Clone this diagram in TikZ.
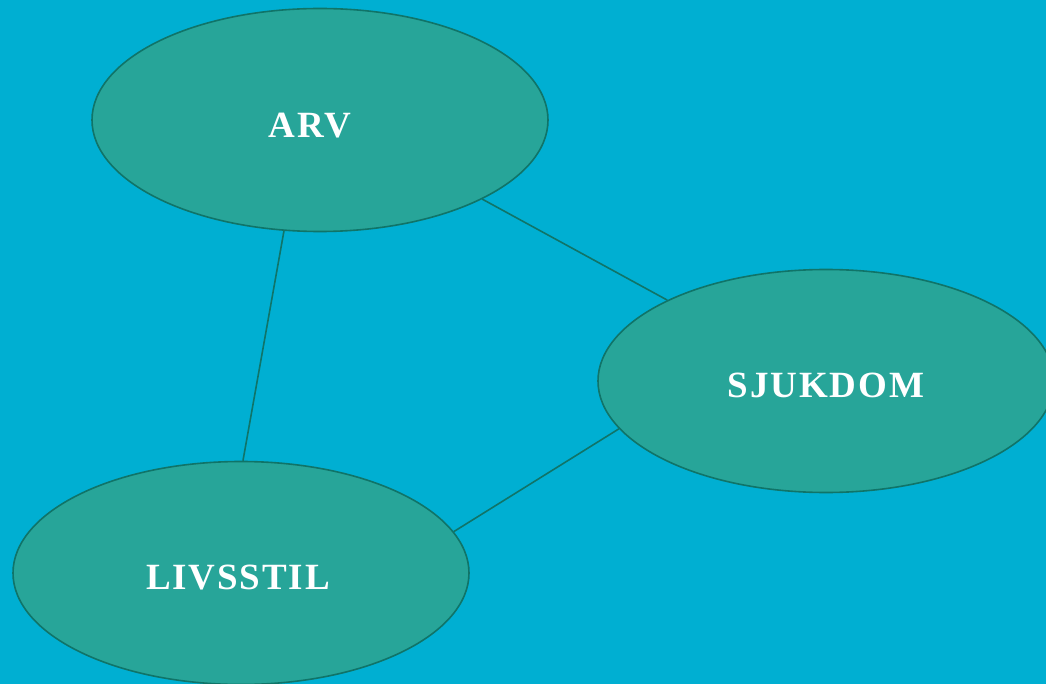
\documentclass[tikz,border=0pt]{standalone}
\usepackage{fontspec}
\newfontfamily\labelfont[LetterSpace=5]{Liberation Serif}
\usetikzlibrary{shapes.geometric}
\definecolor{bgblue}{RGB}{0,175,210}
\definecolor{bubblefill}{RGB}{39,165,153}
\definecolor{bubbleedge}{RGB}{16,116,104}
\tikzset{
  bubble/.style={ellipse, draw=bubbleedge, fill=bubblefill, line width=1.6pt,
    minimum width=456pt, minimum height=223pt, inner sep=0pt},
  txt/.style={text=white, font=\labelfont\bfseries\fontsize{37}{42}\selectfont, inner sep=0pt},
  link/.style={draw=bubbleedge, line width=1.6pt}
}
\begin{document}
\begin{tikzpicture}[x=1pt,y=-1pt]
\useasboundingbox (0,0) rectangle (1046,684);
\clip (0,0) rectangle (1046,684);
\fill[bgblue] (0,0) rectangle (1046,684);
\node[bubble] (arv) at (320,120) {};
\node[bubble] (sjuk) at (826,381) {};
\node[bubble] (livs) at (241,573) {};
\draw[link] (arv.252.6) -- (livs.89.5);
\draw[link] (arv.-26) -- (sjuk.153.9);
\draw[link] (sjuk.193.8) -- (livs.11.6);
\node[txt] (arvt) at (310,126) {ARV};
\node[txt] (sjukt) at (826,385) {SJUKDOM};
\node[txt] (livst) at (238,578) {LIVSSTIL};
\end{tikzpicture}
\end{document}
